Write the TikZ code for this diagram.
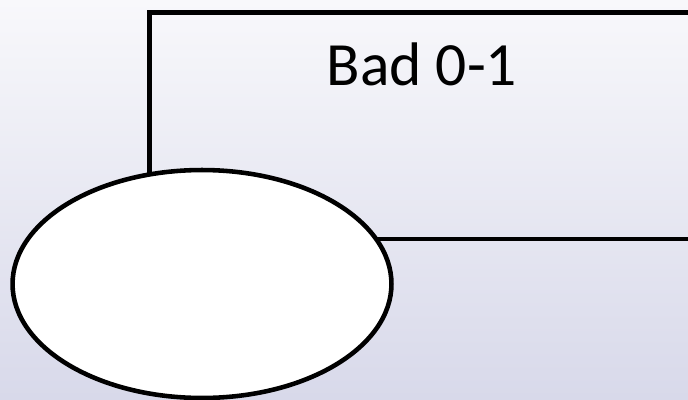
\documentclass[tikz,border=0pt]{standalone}
\usepackage{fontspec}
\setmainfont{Carlito}
\usepackage{tikz}
\usetikzlibrary{shapes.geometric}

\begin{document}
\begin{tikzpicture}[x=0.02cm,y=-0.02cm]
\definecolor{bgtop}{RGB}{248,248,251}
\definecolor{bgbot}{RGB}{216,217,234}
\tikzset{outline/.style={line width=2.6pt,black}}

% Background
\useasboundingbox (0,0) rectangle (688,399);
\clip (0,0) rectangle (688,399);
\shade[top color=bgtop,bottom color=bgbot] (0,0) rectangle (688,399);

% Box
\draw[outline] (149.5,12.5) rectangle (720,239);
\node[anchor=base,inner sep=0pt] (label) at (422,85) {\fontsize{35}{42}\selectfont Bad 0-1};

% Oval
\node[ellipse,draw,outline,fill=white,inner sep=0pt,
  minimum width=7.58cm,minimum height=4.56cm] (oval) at (202,284) {};
\end{tikzpicture}
\end{document}
